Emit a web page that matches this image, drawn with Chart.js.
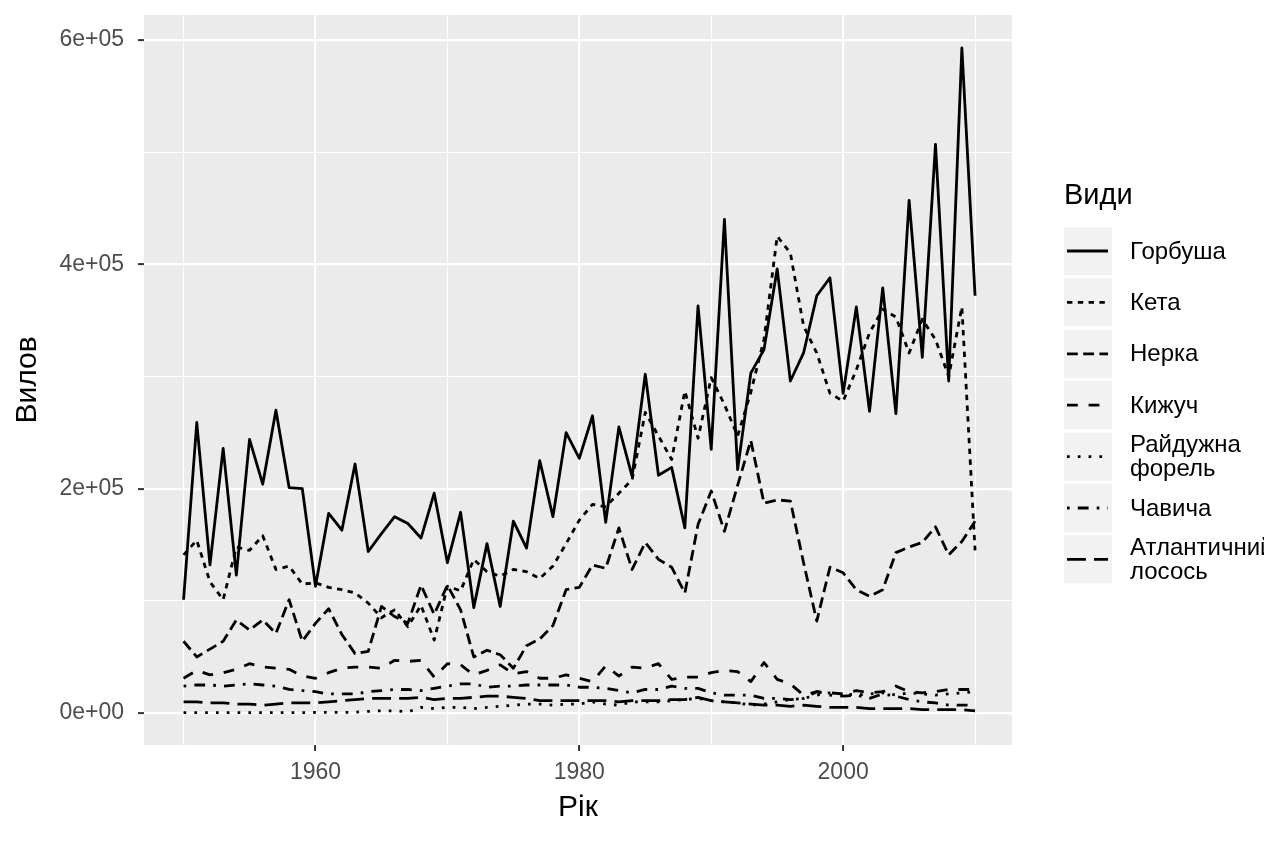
<!DOCTYPE html>
<html>
<head>
<meta charset="utf-8">
<script src="https://cdn.jsdelivr.net/npm/chart.js@4.4.1/dist/chart.umd.min.js"></script>
<style>
  html, body { margin: 0; padding: 0; background: #fff; }
  #wrap { width: 1264px; height: 843px; }
</style>
</head>
<body>
<div id="wrap"><canvas id="chart" width="1264" height="843"></canvas></div>
<script>
// Years on the x axis
const years = [1950, 1951, 1952, 1953, 1954, 1955, 1956, 1957, 1958, 1959,
               1960, 1961, 1962, 1963, 1964, 1965, 1966, 1967, 1968, 1969,
               1970, 1971, 1972, 1973, 1974, 1975, 1976, 1977, 1978, 1979,
               1980, 1981, 1982, 1983, 1984, 1985, 1986, 1987, 1988, 1989,
               1990, 1991, 1992, 1993, 1994, 1995, 1996, 1997, 1998, 1999,
               2000, 2001, 2002, 2003, 2004, 2005, 2006, 2007, 2008, 2009, 2010];

// Catch per species
const gorbusha = [101000, 259000, 132000, 236000, 123000, 244000, 204000, 270000, 201000, 200000,
                  113000, 178000, 163000, 222000, 144000, 160000, 175000, 169000, 156000, 196000,
                  134000, 179000, 94000, 151000, 95000, 171000, 147000, 225000, 175000, 250000,
                  227000, 265000, 170000, 255000, 211000, 302000, 212000, 219000, 165000, 363000,
                  235000, 440000, 217000, 303000, 324000, 396000, 296000, 321000, 372000, 388000,
                  285000, 362000, 269000, 379000, 267000, 457000, 317000, 507000, 296000, 593000, 372000];
const keta = [141000, 154000, 117000, 101000, 148000, 145000, 158000, 128000, 131000, 115000,
              116000, 112000, 110000, 107000, 98000, 85000, 92000, 77000, 96000, 65000,
              113000, 109000, 137000, 126000, 122000, 128000, 126000, 120000, 131000, 151000,
              172000, 186000, 184000, 196000, 208000, 268000, 247000, 226000, 287000, 245000,
              299000, 275000, 247000, 286000, 333000, 425000, 410000, 345000, 321000, 285000,
              278000, 306000, 339000, 360000, 353000, 321000, 351000, 333000, 300000, 362000, 145000];
const nerka = [64000, 50000, 57000, 64000, 83000, 74000, 83000, 71000, 101000, 64000,
               80000, 93000, 70000, 53000, 55000, 95000, 86000, 80000, 114000, 88000,
               114000, 92000, 50000, 56000, 52000, 40000, 60000, 66000, 78000, 110000,
               112000, 132000, 129000, 165000, 128000, 152000, 137000, 130000, 107000, 168000,
               198000, 162000, 203000, 243000, 187000, 190000, 189000, 134000, 82000, 130000,
               125000, 110000, 104000, 110000, 143000, 148000, 152000, 166000, 141000, 153000, 171000];
const kyzhuch = [31000, 38000, 34000, 36000, 39000, 44000, 41000, 40000, 39000, 33000,
                 31000, 36000, 40000, 41000, 41000, 40000, 47000, 46000, 47000, 32000,
                 44000, 43000, 34000, 38000, 43000, 35000, 37000, 31000, 31000, 34000,
                 31000, 28000, 42000, 33000, 41000, 40000, 44000, 30000, 32000, 32000,
                 36000, 38000, 37000, 28000, 45000, 30000, 26000, 16000, 19000, 18000,
                 17000, 20000, 18000, 19000, 24000, 19000, 18000, 19000, 21000, 21000, 21000];
const forel = [300, 300, 300, 300, 400, 400, 300, 300, 400, 400,
               500, 500, 600, 700, 1500, 2000, 2000, 1000, 5000, 4000,
               5000, 5000, 4000, 5000, 6000, 7000, 8000, 8000, 7000, 8000,
               8000, 10000, 8000, 7000, 10000, 10000, 10000, 11000, 12000, 13000,
               11000, 10000, 9000, 7000, 8000, 10000, 12000, 13000, 16000, 18000,
               17000, 16000, 17000, 18000, 16000, 18000, 17000, 16000, 17000, 18000, 19000];
const chavycha = [24000, 25000, 25000, 24000, 25000, 26000, 25000, 24000, 21000, 20000,
                  19000, 17000, 17000, 17000, 19000, 20000, 21000, 21000, 20000, 22000,
                  24000, 26000, 26000, 23000, 24000, 24000, 25000, 25000, 25000, 25000,
                  23000, 23000, 22000, 20000, 18000, 21000, 21000, 24000, 22000, 22000,
                  18000, 16000, 16000, 16000, 13000, 13000, 12000, 13000, 19000, 16000,
                  15000, 16000, 13000, 17000, 15000, 12000, 10000, 9000, 7000, 7000, 7000];
const atlantic = [10000, 10000, 9000, 9000, 8000, 8000, 7000, 8000, 9000, 9000,
                  9000, 10000, 11000, 12000, 13000, 13000, 13000, 13000, 14000, 12000,
                  13000, 13000, 14000, 15000, 15000, 14000, 13000, 11000, 11000, 11000,
                  11000, 11000, 11000, 10000, 11000, 11000, 11000, 12000, 12000, 14000,
                  11000, 10000, 9000, 8000, 7000, 7000, 6000, 7000, 6000, 5000,
                  5000, 5000, 4000, 4000, 4000, 4000, 3000, 3000, 3000, 3000, 2000];

const seriesNames = ["Горбуша", "Кета", "Нерка", "Кижуч", "Райдужна\nфорель", "Чавича", "Атлантичний\nлосось"];
const seriesValues = [gorbusha, keta, nerka, kyzhuch, forel, chavycha, atlantic];

// ggplot linetypes: solid, 22, 42, 44, 13, 1343, 73 (units of line width)
const u = 2.7;
const dashes = [[], [2*u, 2*u], [4*u, 2*u], [4*u, 4*u], [1*u, 3*u], [1*u, 3*u, 4*u, 3*u], [7*u, 3*u]];

const xGrid = [1950, 1960, 1970, 1980, 1990, 2000, 2010];
const yGrid = [0, 100000, 200000, 300000, 400000, 500000, 600000];

const FONT = "'Liberation Sans', Arial, sans-serif";

function sci(v) {
    if (v === 0) return "0e+00";
    const e = Math.floor(Math.log10(v));
    const m = Math.round(v / Math.pow(10, e));
    return m + "e+" + String(e).padStart(2, "0");
}

// grey panel behind grid
const panelBg = {
    id: "panelBg",
    beforeDraw(chart) {
        const a = chart.chartArea, c = chart.ctx;
        c.save();
        c.fillStyle = "#EBEBEB";
        c.fillRect(a.left, a.top, a.right - a.left, a.bottom - a.top);
        c.restore();
    }
};

// legend drawn in ggplot style on the right
const ggLegend = {
    id: "ggLegend",
    afterDraw(chart) {
        const c = chart.ctx;
        c.save();
        c.fillStyle = "#000";
        c.font = "29px " + FONT;
        c.textBaseline = "middle";
        c.fillText("Види", 1064, 196);
        const x0 = 1064, y0 = 227, w = 48, h = 48, step = 51.4;
        chart.data.datasets.forEach((ds, i) => {
            const top = y0 + i * step, cy = top + h / 2;
            c.fillStyle = "#F2F2F2";
            c.fillRect(x0, top, w, h);
            c.strokeStyle = ds.borderColor;
            c.lineWidth = ds.borderWidth;
            c.lineCap = "butt";
            c.setLineDash(ds.borderDash);
            c.beginPath();
            c.moveTo(x0 + 3, cy);
            c.lineTo(x0 + w - 4, cy);
            c.stroke();
            c.setLineDash([]);
            c.fillStyle = "#000";
            c.font = "24px " + FONT;
            const lines = ds.label.split("\n");
            const lh = 24;
            lines.forEach((t, k) => {
                c.fillText(t, 1130, cy + 1 + (k - (lines.length - 1) / 2) * lh);
            });
        });
        c.restore();
    }
};

const datasets = seriesNames.map((name, i) => ({
    label: name,
    data: years.map((yr, k) => ({ x: yr, y: seriesValues[i][k] })),
    borderColor: "#000000",
    borderWidth: 2.8,
    borderDash: dashes[i],
    borderCapStyle: "butt",
    borderJoinStyle: "round",
    pointRadius: 0,
    tension: 0,
    fill: false
}));

const ctx = document.getElementById("chart").getContext("2d");
new Chart(ctx, {
    type: "line",
    data: { datasets: datasets },
    options: {
        responsive: false,
        animation: false,
        devicePixelRatio: 1,
        layout: { padding: { top: 15, right: 252, left: 0, bottom: 0 } },
        plugins: {
            legend: { display: false },
            tooltip: { enabled: false }
        },
        scales: {
            x: {
                type: "linear",
                min: 1947.0,
                max: 2012.8,
                afterBuildTicks: s => { s.ticks = xGrid.map(v => ({ value: v })); },
                afterFit: s => { s.height = 98; s.paddingLeft = 0; s.paddingRight = 0; },
                border: { display: false },
                grid: {
                    color: "#FFFFFF",
                    lineWidth: c => (c.tick && c.tick.value % 20 === 0) ? 2.2 : 1.1,
                    drawTicks: true,
                    tickLength: 6,
                    tickWidth: 2,
                    tickColor: c => (c.tick && c.tick.value % 20 === 0) ? "#333333" : "rgba(0,0,0,0)"
                },
                ticks: {
                    autoSkip: false,
                    maxRotation: 0,
                    padding: 8,
                    color: "#4D4D4D",
                    font: { family: FONT, size: 23 },
                    callback: v => (v % 20 === 0) ? String(v) : ""
                },
                title: {
                    display: true,
                    text: "Рік",
                    color: "#000",
                    font: { family: FONT, size: 30 },
                    padding: { top: 0, bottom: 17 }
                }
            },
            y: {
                type: "linear",
                min: -28500,
                max: 622300,
                afterBuildTicks: s => { s.ticks = yGrid.map(v => ({ value: v })); },
                afterFit: s => { s.width = 144; s.paddingTop = 0; s.paddingBottom = 0; },
                border: { display: false },
                grid: {
                    color: "#FFFFFF",
                    lineWidth: c => (c.tick && c.tick.value % 200000 === 0) ? 2.2 : 1.1,
                    drawTicks: true,
                    tickLength: 6,
                    tickWidth: 2,
                    tickColor: c => (c.tick && c.tick.value % 200000 === 0) ? "#333333" : "rgba(0,0,0,0)"
                },
                ticks: {
                    autoSkip: false,
                    padding: 14,
                    color: "#4D4D4D",
                    font: { family: FONT, size: 23 },
                    callback: v => (v % 200000 === 0) ? sci(v) : ""
                },
                title: {
                    display: true,
                    text: "Вилов",
                    color: "#000",
                    font: { family: FONT, size: 30 },
                    padding: { top: 10, bottom: 0 }
                }
            }
        }
    },
    plugins: [panelBg, ggLegend]
});
</script>
</body>
</html>
